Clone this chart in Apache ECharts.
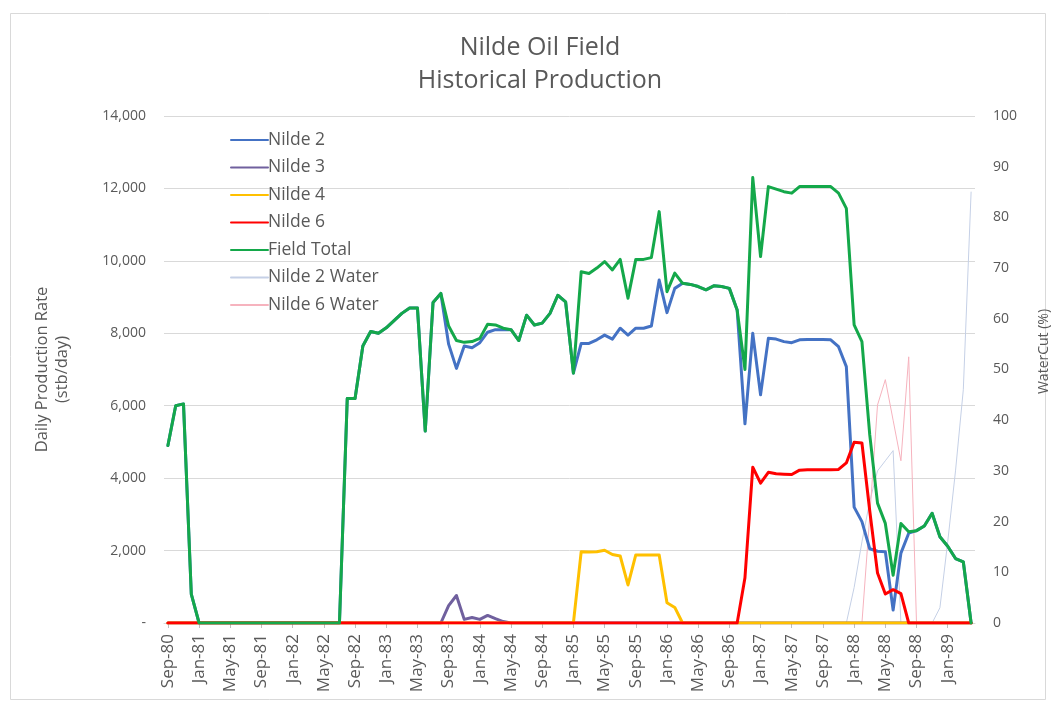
<!DOCTYPE html>
<html>
<head>
<meta charset="utf-8">
<script src="https://cdn.jsdelivr.net/npm/echarts@6/dist/echarts.min.js"></script>
<style>html,body{margin:0;padding:0;background:#fff;}#c{width:1056px;height:702px;}</style>
</head>
<body>
<div id="c"></div>
<script>
// Monthly categories Sep-80 .. Apr-89
var monthNames = ['Jan','Feb','Mar','Apr','May','Jun','Jul','Aug','Sep','Oct','Nov','Dec'];
var categories = [];
for (var k = 0; k < 104; k++) {
  var m = (8 + k) % 12, y = 80 + Math.floor((8 + k) / 12);
  categories.push(monthNames[m] + '-' + String(y).padStart(2, '0'));
}
var leftTickLabels = ['-', '2,000', '4,000', '6,000', '8,000', '10,000', '12,000', '14,000'];

var nilde2 = [4900,6000,6050,800,0, 0,0,0,0,0,0,0,0,0,0,0,0,0,0,0,0,0,0,
  6200,6200,7650,8050,8000,8150,8350,8550,8700,8700,5300,8850,9100,
  7700,7030,7650,7600,7740,8030,8100,8100,8100,7800,8500,8230,8280,8550,9050,8870,6900,
  7720,7720,7820,7950,7840,8140,7950,8140,8140,8200,9470,8570,9240,9380,9350,9290,9200,9310,9290,9240,8640,
  5500,8000,6300,7860,7840,7770,7740,7820,7830,7830,7830,7820,7630,7080,3200,2800,
  2050,1980,1970,360,1930,2480,2550,2680,3030,2380,2120,1780,1690,0];
var nilde3 = [0,0,0,0,0,0,0,0,0,0,0,0,0,0,0,0,0,0,0,0,0,0,0,0,0,0,0,0,0,0,0,0,0,0,0,0,
  480,760,100,150,100,210,120,40,
  0,0,0,0,0,0,0,0,0,0,0,0,0,0,0,0,0,0,0,0,0,0,0,0,0,0,0,0,0,0,0,0,0,0,0,0,0,0,0,0,0,0,0,0,0,0,0,0,0,0,0,0,0,0,0,0,0,0,0,0];
var nilde4 = [0,0,0,0,0,0,0,0,0,0,0,0,0,0,0,0,0,0,0,0,0,0,0,0,0,0,0,0,0,0,0,0,0,0,0,0,0,0,0,0,0,0,0,0,0,0,0,0,0,0,0,0,0,
  1970,1960,1970,2010,1890,1850,1050,1880,1880,1880,1880,560,430,
  0,0,0,0,0,0,0,0,0,0,0,0,0,0,0,0,0,0,0,0,0,0,0,0,0,0,0,0,0,0,0,0,0,0,0,0,0,0];
var nilde6 = [0,0,0,0,0,0,0,0,0,0,0,0,0,0,0,0,0,0,0,0,0,0,0,0,0,0,0,0,0,0,0,0,0,0,0,0,0,0,0,0,0,0,0,0,0,0,0,0,0,0,0,0,0,0,0,0,0,0,0,0,0,0,0,0,0,0,0,0,0,0,0,0,0,0,
  1250,4300,3860,4160,4120,4110,4100,4220,4230,4230,4230,4230,4240,4420,4990,4970,3100,1380,800,920,810,
  0,0,0,0,0,0,0,0,0];
var fieldTotal = [4900,6000,6050,800,0, 0,0,0,0,0,0,0,0,0,0,0,0,0,0,0,0,0,0,
  6200,6200,7650,8050,8000,8150,8350,8550,8700,8700,5300,8850,9100,
  8200,7800,7750,7770,7860,8250,8230,8140,8100,7800,8500,8230,8280,8550,9050,8870,6900,
  9700,9650,9800,9980,9750,10040,8970,10040,10040,10090,11360,9150,9660,9380,9350,9290,9200,9310,9290,9240,8640,
  7000,12300,10120,12050,11980,11910,11870,12050,12050,12050,12050,12050,11870,11450,8230,7770,
  5200,3310,2750,1320,2750,2520,2550,2680,3030,2380,2120,1780,1690,0];
var nilde2Water = [0,0,0,0,0,0,0,0,0,0,0,0,0,0,0,0,0,0,0,0,0,0,0,0,0,0,0,0,0,0,0,0,0,0,0,0,0,0,0,0,0,0,0,0,0,0,0,0,0,0,0,0,0,0,0,0,0,0,0,0,0,0,0,0,0,0,0,0,0,0,0,0,0,0,0,0,0,0,0,0,0,0,0,0,0,0,0,0,
  7,16,24,30,32,34, 0,0,0,0,0, 3,16,30,46,85];
var nilde6Water = [0,0,0,0,0,0,0,0,0,0,0,0,0,0,0,0,0,0,0,0,0,0,0,0,0,0,0,0,0,0,0,0,0,0,0,0,0,0,0,0,0,0,0,0,0,0,0,0,0,0,0,0,0,0,0,0,0,0,0,0,0,0,0,0,0,0,0,0,0,0,0,0,0,0,0,0,0,0,0,0,0,0,0,0,0,0,0,0,0,0,
  21,43,48,40,32,52.5, 0,0,0,0,0,0,0,0];

var FONT = 'Open Sans';
var GREY = '#595959';

function lineSeries(name, data, color, width, axis, z) {
  return {
    name: name, type: 'line', data: data, yAxisIndex: axis, symbol: 'none', z: z,
    lineStyle: { color: color, width: width, cap: 'round', join: 'round' },
    itemStyle: { color: color }, emphasis: { disabled: true }, animation: false
  };
}

var chart = echarts.init(document.getElementById('c'), null, { renderer: 'canvas' });
chart.setOption({
  backgroundColor: '#ffffff',
  animation: false,
  textStyle: { fontFamily: FONT },
  graphic: [{
    type: 'rect', shape: { x: 10.5, y: 13.5, width: 1035, height: 686 },
    style: { fill: 'none', stroke: '#d9d9d9', lineWidth: 1 }, silent: true
  }],
  title: {
    text: 'Nilde Oil Field\nHistorical Production',
    left: 535, top: 26, textAlign: 'center',
    textStyle: { fontFamily: FONT, fontSize: 25, fontWeight: 'normal', color: GREY, lineHeight: 33 }
  },
  legend: {
    orient: 'vertical', left: 225, top: 126,
    itemWidth: 37, itemHeight: 18, itemGap: 9.5,
    itemStyle: { opacity: 0 },
    data: ['Nilde 2', 'Nilde 3', 'Nilde 4', 'Nilde 6', 'Field Total', 'Nilde 2 Water', 'Nilde 6 Water'],
    textStyle: { fontFamily: FONT, fontSize: 17.5, color: GREY, lineHeight: 18, padding: [0, 0, 0, -5] }
  },
  grid: { left: 164, right: 81, top: 116, bottom: 79, containLabel: false, outerBoundsMode: 'none' },
  xAxis: {
    type: 'category', data: categories, boundaryGap: true,
    axisLine: { show: true, lineStyle: { color: '#d9d9d9' } },
    axisTick: { show: true, alignWithLabel: true, interval: 3, length: 5, lineStyle: { color: '#bfbfbf' } },
    axisLabel: { interval: 3, rotate: 90, margin: 11, fontFamily: FONT, fontSize: 17, color: GREY },
    splitLine: { show: false }
  },
  yAxis: [{
    type: 'value', min: 0, max: 14000, interval: 2000,
    name: 'Daily Production Rate\n(stb/day)', nameLocation: 'middle', nameRotate: 90, nameGap: 92,
    nameTextStyle: { fontFamily: FONT, fontSize: 16.5, color: GREY, lineHeight: 20 },
    axisLine: { show: false }, axisTick: { show: false },
    axisLabel: { margin: 18, fontFamily: FONT, fontSize: 14, color: GREY,
      formatter: function (v) { return leftTickLabels[Math.round(v / 2000)]; } },
    splitLine: { show: true, lineStyle: { color: '#d9d9d9', width: 1 } }
  }, {
    type: 'value', min: 0, max: 100, interval: 10, position: 'right',
    name: 'WaterCut (%)', nameLocation: 'middle', nameRotate: 90, nameGap: 62,
    nameTextStyle: { fontFamily: FONT, fontSize: 14, color: GREY, padding: [0, 0, 0, 36] },
    axisLine: { show: false }, axisTick: { show: false },
    axisLabel: { margin: 18, fontFamily: FONT, fontSize: 14, color: GREY },
    splitLine: { show: false }
  }],
  series: [
    lineSeries('Nilde 2', nilde2, '#4472C4', 3, 0, 2),
    lineSeries('Nilde 3', nilde3, '#70609E', 3, 0, 2),
    lineSeries('Nilde 4', nilde4, '#FFC000', 3, 0, 2),
    lineSeries('Nilde 6', nilde6, '#FF0000', 3, 0, 2),
    lineSeries('Field Total', fieldTotal, '#14A84A', 3, 0, 2),
    lineSeries('Nilde 2 Water', nilde2Water, '#C5D0E6', 1, 1, 1),
    lineSeries('Nilde 6 Water', nilde6Water, '#F6B3BE', 1, 1, 1)
  ]
});
</script>
</body>
</html>
